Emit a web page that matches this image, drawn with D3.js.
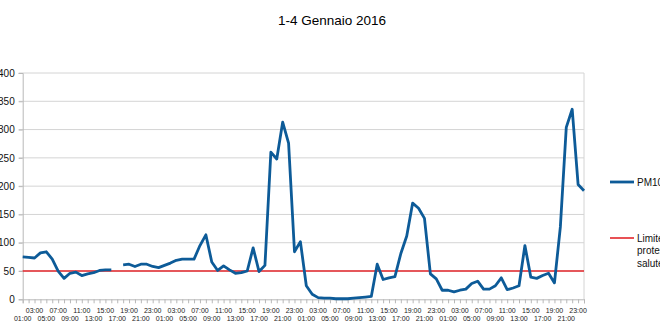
<!DOCTYPE html>
<html>
<head>
<meta charset="utf-8">
<script src="https://cdn.jsdelivr.net/npm/d3@7"></script>
<style>
  html, body { margin: 0; padding: 0; background: #fff; overflow: hidden; }
  svg { display: block; font-family: "Liberation Sans", Arial, sans-serif; }
</style>
</head>
<body>
<svg id="chart" width="660" height="330"></svg>
<script>
// ---- data ----
const title = "1-4 Gennaio 2016";
const days = ["01", "02", "03", "04"];
const hourLabels = ["01:00","02:00","03:00","04:00","05:00","06:00","07:00","08:00",
  "09:00","10:00","11:00","12:00","13:00","14:00","15:00","16:00","17:00","18:00",
  "19:00","20:00","21:00","22:00","23:00","24:00"];
const pm10 = [
  75, 74, 73, 82, 84, 71, 50, 37, 46, 48, 42, 45, 47, 51, 52, 52, null, 61, 62, 58, 62, 62, 58, 56,
  60, 64, 69, 71, 71, 71, 95, 114, 66, 51, 59, 52, 46, 47, 50, 91, 49, 60, 260, 248, 313, 276, 84, 102,
  24, 9, 3, 2, 2, 1, 1, 1, 2, 3, 4, 5, 62, 35, 38, 40, 81, 112, 170, 161, 143, 45, 36, 16,
  16, 13, 16, 18, 28, 32, 18, 18, 24, 38, 17, 20, 24, 95, 39, 37, 42, 46, 29, 128, 304, 336, 203, 192
];
const limite = 50;
const yTicks = [0, 50, 100, 150, 200, 250, 300, 350, 400];
const seriesNames = ["PM10", "Limite protezione salute"];
const legendLines = [["PM10"], ["Limite", "protezione", "salute"]];
const colors = ["#0d5b98", "#e3262b"];

// categories (day, hour)
const categories = [];
days.forEach(d => hourLabels.forEach(h => categories.push(d + " " + h)));
const labelOf = c => c.split(" ")[1];

// ---- layout ----
const svg = d3.select("#chart");
const pLeft = 22.7, pRight = 584, pTop = 73, pBottom = 299.3;

const x = d3.scalePoint().domain(categories).range([pLeft, pRight]).padding(0);
const y = d3.scaleLinear().domain([0, 400]).range([pBottom, pTop]);

// title
svg.append("text").attr("x", 332).attr("y", 25).attr("text-anchor", "middle")
  .attr("font-size", 13.5).attr("fill", "#000").text(title);

// gridlines
svg.append("g").selectAll("line").data(yTicks.filter(t => t > 0)).join("line")
  .attr("x1", pLeft - 4).attr("x2", pRight)
  .attr("y1", d => y(d)).attr("y2", d => y(d))
  .attr("stroke", "#d4d4d4").attr("stroke-width", 1);

// y axis
const yAxis = d3.axisLeft(y).tickValues(yTicks).tickSize(4).tickPadding(4);
const gy = svg.append("g").attr("transform", `translate(${pLeft},0)`).call(yAxis);
gy.select(".domain").attr("stroke", "#b8b8b8");
gy.selectAll(".tick line").attr("stroke", "#b8b8b8");
gy.selectAll(".tick text").attr("font-size", 10).attr("fill", "#111")
  .attr("font-family", "Liberation Sans, Arial, sans-serif");

// right border
svg.append("line").attr("x1", pRight).attr("x2", pRight).attr("y1", pTop).attr("y2", pBottom)
  .attr("stroke", "#d4d4d4");

// x axis
const xAxis = d3.axisBottom(x).tickSize(4).tickFormat("");
const gx = svg.append("g").attr("transform", `translate(0,${pBottom})`).call(xAxis);
gx.select(".domain").attr("stroke", "#b8b8b8");
gx.selectAll(".tick line").attr("stroke", "#b8b8b8");

// x labels in two staggered rows
const labeled = categories.filter(c => {
  const h = +labelOf(c).slice(0, 2);
  return h % 2 === 1;
});
svg.append("g").selectAll("text").data(labeled).join("text")
  .attr("x", d => x(d))
  .attr("y", d => (+labelOf(d).slice(0, 2)) % 4 === 3 ? 313.3 : 321.3)
  .attr("text-anchor", "middle").attr("font-size", 7).attr("fill", "#222")
  .text(d => labelOf(d));

// limit line
const limData = categories.map(c => ({ c, v: limite }));
svg.append("path").datum(limData)
  .attr("fill", "none").attr("stroke", colors[1]).attr("stroke-width", 1.6)
  .attr("d", d3.line().x(d => x(d.c)).y(d => y(d.v)));

// PM10 line
const pmData = categories.map((c, i) => ({ c, v: pm10[i] }));
svg.append("path").datum(pmData)
  .attr("fill", "none").attr("stroke", colors[0]).attr("stroke-width", 2.8)
  .attr("stroke-linejoin", "round")
  .attr("d", d3.line().defined(d => d.v !== null).x(d => x(d.c)).y(d => y(d.v)));

// legend
const legendY = [182, 238];
const lg = svg.append("g");
legendLines.forEach((lines, k) => {
  lg.append("line").attr("x1", 610).attr("x2", 634)
    .attr("y1", legendY[k]).attr("y2", legendY[k])
    .attr("stroke", colors[k]).attr("stroke-width", k === 0 ? 2.8 : 1.6);
  const t = lg.append("text").attr("x", 637).attr("y", legendY[k] + 3.6)
    .attr("font-size", 10).attr("fill", "#111");
  lines.forEach((s, j) => {
    t.append("tspan").attr("x", 637).attr("dy", j === 0 ? 0 : 12.5).text(s);
  });
});
</script>
</body>
</html>
